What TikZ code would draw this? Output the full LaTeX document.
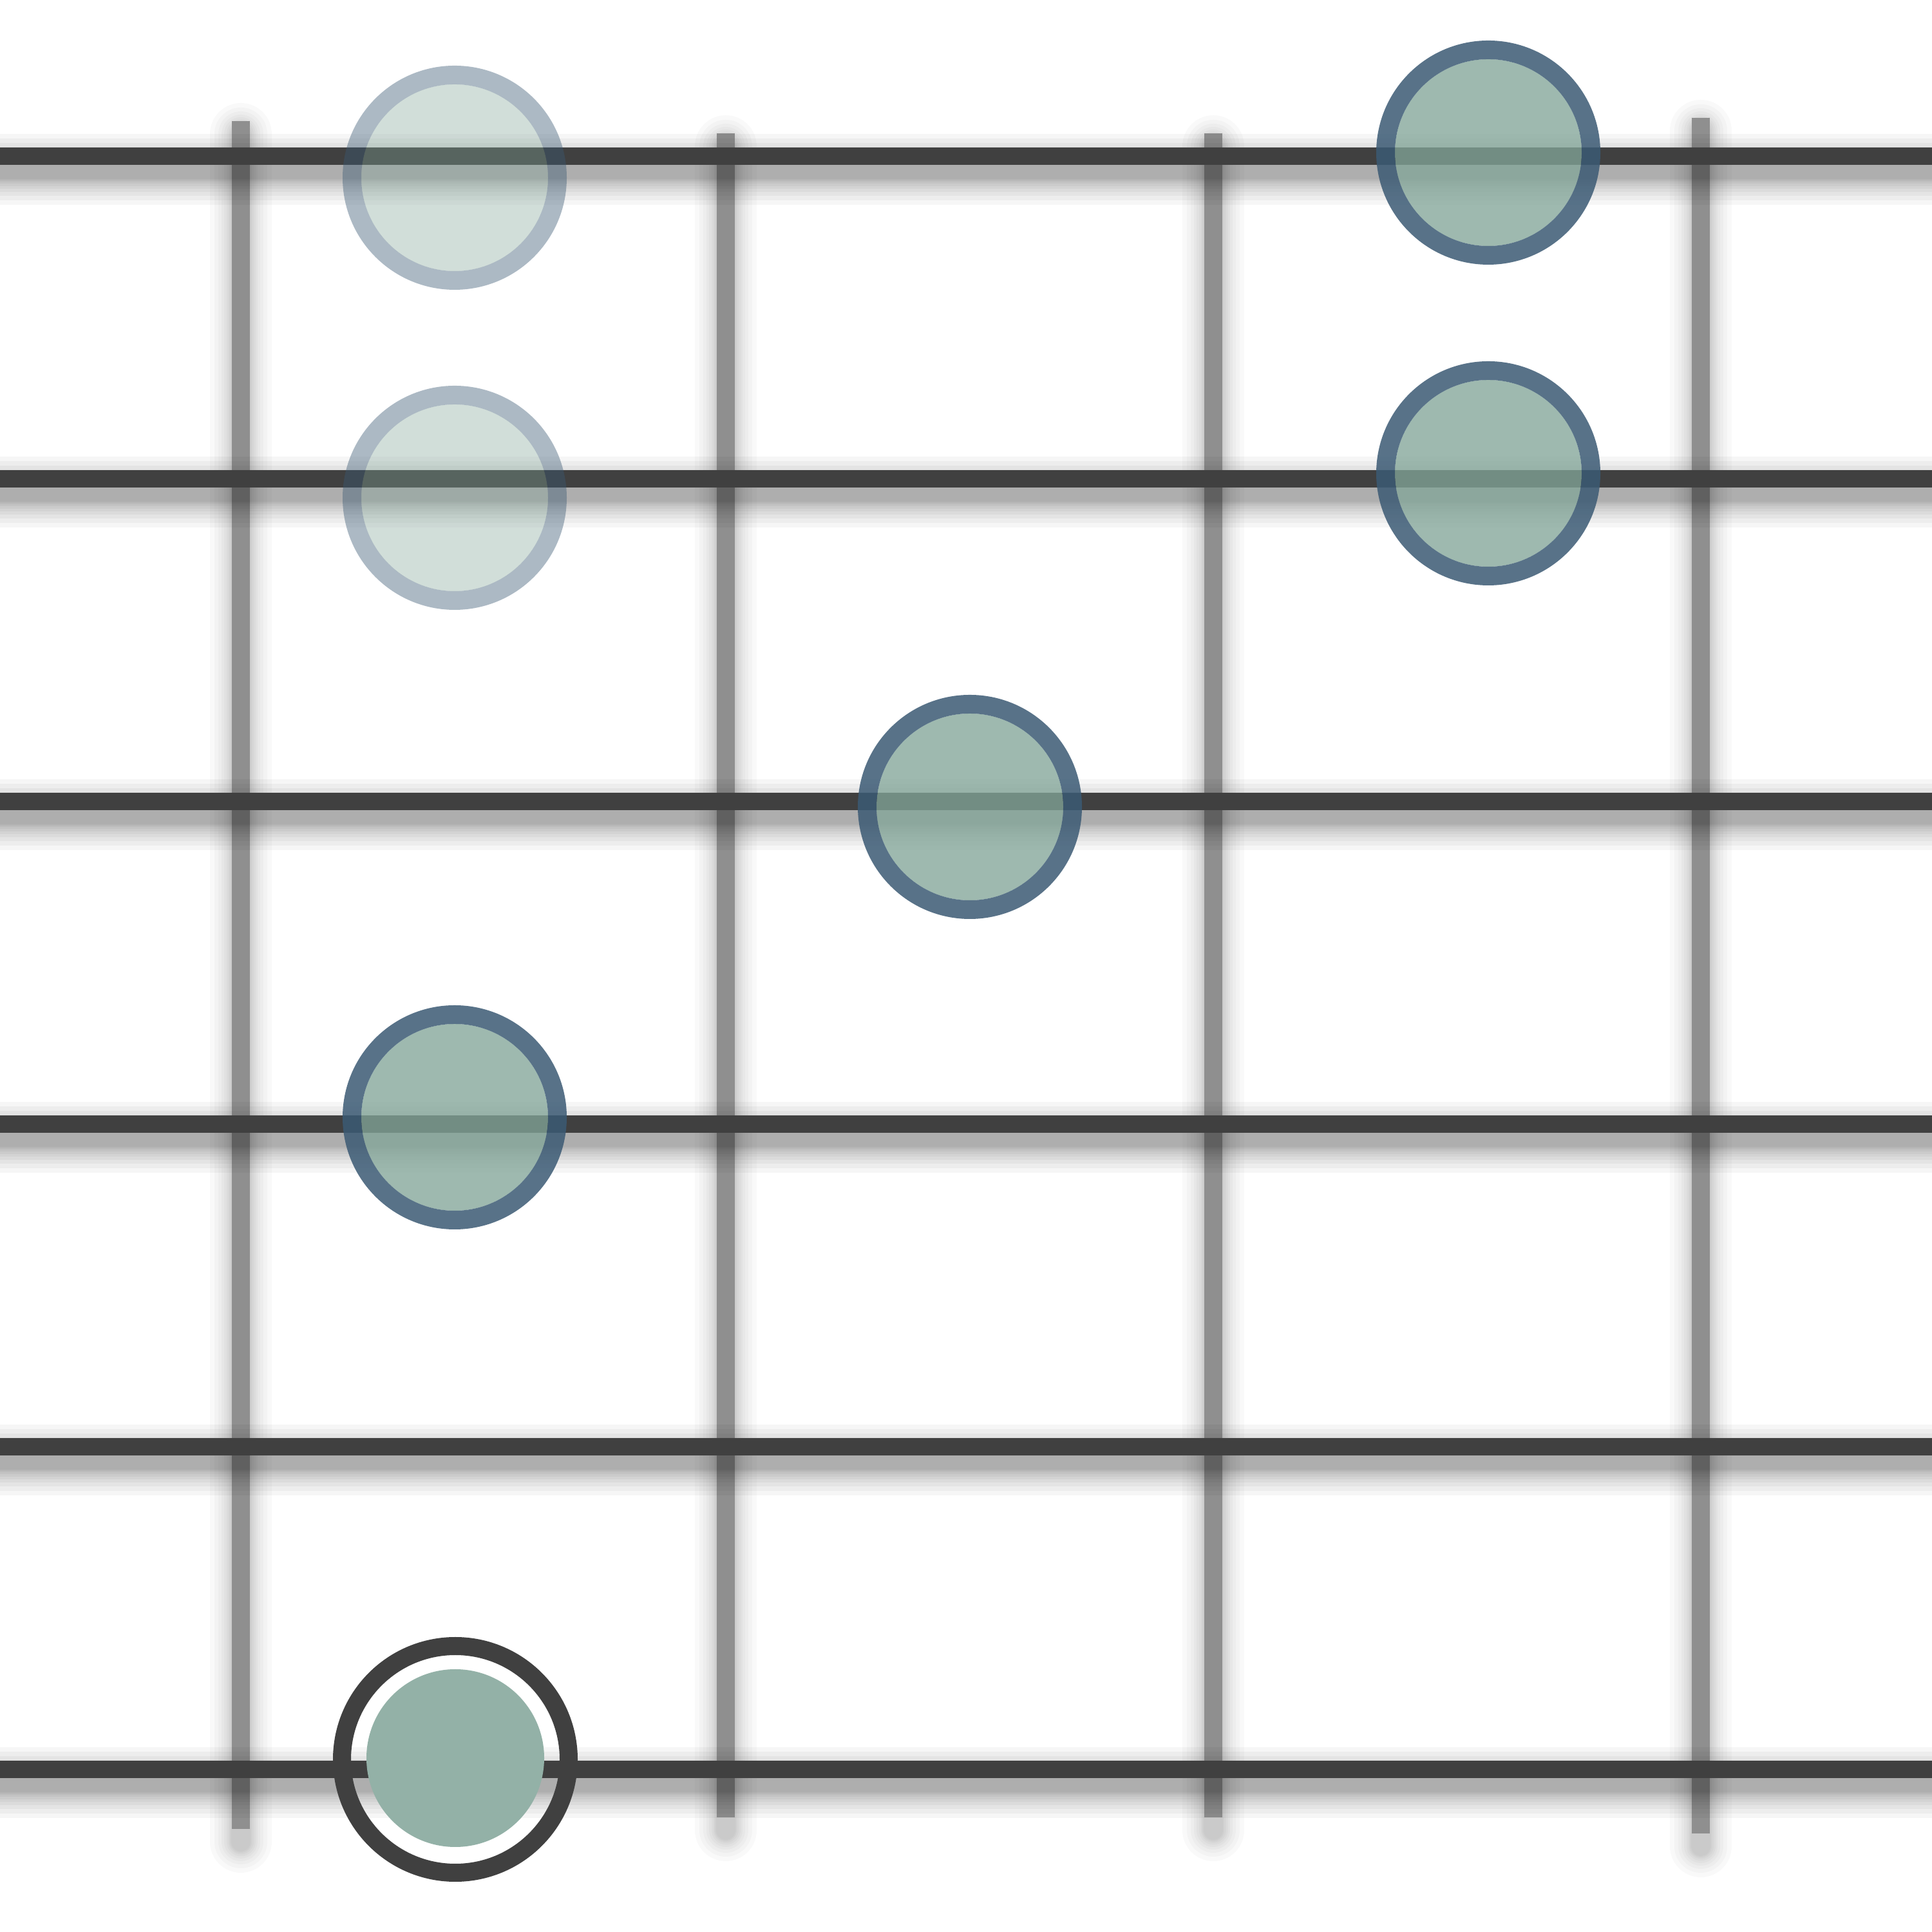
\documentclass[tikz,border=0pt]{standalone}
\usepackage{tikz}
\definecolor{stringgray}{HTML}{404040}
\definecolor{fretgray}{HTML}{8F8F8F}
\definecolor{dotedge}{HTML}{3B5A74}
\definecolor{dotfill}{HTML}{82A598}
\definecolor{rootfill}{HTML}{93B1A7}

\begin{document}
\begin{tikzpicture}[
    fretline/.style={fretgray, line width=0.28cm},
    stringline/.style={stringgray, line width=0.27cm},
    shadowline/.style={black, opacity=0.035, line cap=round},
    fretshadow/.style={black, opacity=0.022, line cap=round},
    notefill/.style={fill=dotfill, fill opacity=0.77},
    noteedge/.style={draw=dotedge, draw opacity=0.85, line width=0.29cm},
    ghostfill/.style={fill=dotfill, fill opacity=0.36},
    ghostedge/.style={draw=dotedge, draw opacity=0.42, line width=0.29cm},
    rootring/.style={draw=stringgray, line width=0.28cm}
]
    % Canvas
    \fill[white] (0,0) rectangle (30,30);
    \useasboundingbox (0,0) rectangle (30,30);

    % Fret shadows
    \foreach \x/\top/\bot in {3.74/28.12/1.60, 11.27/27.93/1.78, 18.84/27.93/1.78, 26.41/28.17/1.53}
        \foreach \w in {0.3,0.34,0.39,0.45,0.52,0.6,0.7,0.82,0.96}
            \draw[fretshadow, line width=\w cm] (\x,\top-0.2) -- (\x,\bot-0.2);

    % Frets
    \foreach \x/\top/\bot in {3.74/28.12/1.60, 11.27/27.93/1.78, 18.84/27.93/1.78, 26.41/28.17/1.53}
        \draw[fretline] (\x,\top) -- (\x,\bot);

    % String shadows
    \foreach \y in {27.57,22.56,17.55,12.54,7.53,2.52}
        \foreach \w in {0.3,0.34,0.39,0.45,0.52,0.6,0.7,0.82,0.96,1.1}
            \draw[shadowline, line width=\w cm] (-1,\y-0.2) -- (31,\y-0.2);

    % Strings
    \foreach \y in {27.57,22.56,17.55,12.54,7.53,2.52}
        \draw[stringline] (0,\y) -- (30,\y);

    % Faded notes
    \foreach \x/\y in {7.06/27.24, 7.06/22.27} {
        \fill[ghostfill] (\x,\y) circle (1.45);
        \draw[ghostedge] (\x,\y) circle (1.595);
    }

    % Notes
    \foreach \x/\y in {23.11/27.63, 23.11/22.65, 15.06/17.47, 7.06/12.65} {
        \fill[notefill] (\x,\y) circle (1.45);
        \draw[noteedge] (\x,\y) circle (1.595);
    }

    % Root note
    \fill[rootfill] (7.07,2.70) circle (1.38);
    \draw[rootring] (7.07,2.68) circle (1.76);
\end{tikzpicture}
\end{document}
